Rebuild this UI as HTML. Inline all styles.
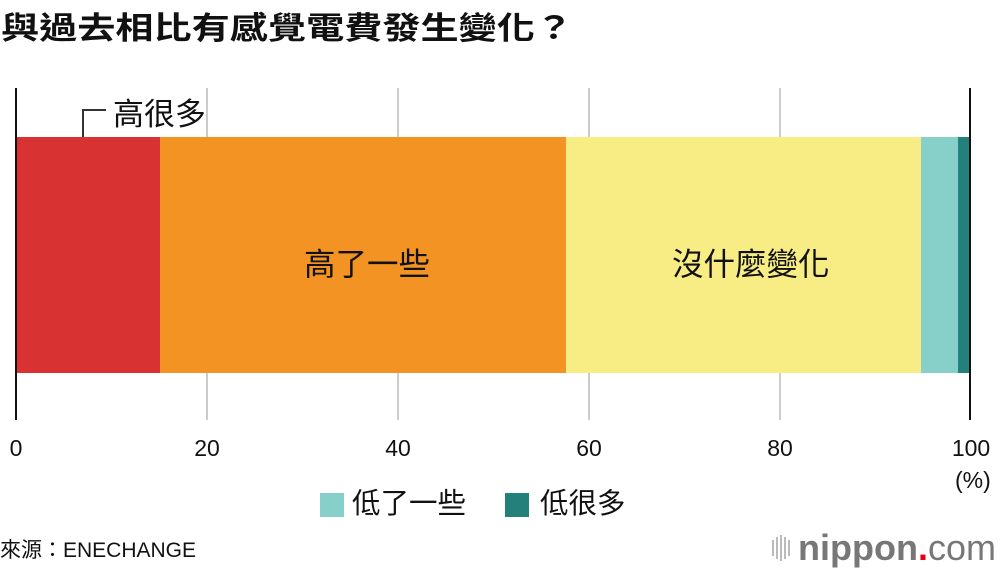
<!DOCTYPE html><html><head><meta charset="utf-8"><style>
body{margin:0;width:1000px;height:570px;background:#fff;overflow:hidden;position:relative;font-family:"Liberation Sans","Noto Sans CJK TC",sans-serif;color:#111}
.a{position:absolute;white-space:nowrap}
.t{position:absolute;white-space:nowrap;transform:translateX(-50%);font-size:23px;top:435px}
</style></head><body>
<svg class="a" style="left:0;top:0" width="1000" height="570">
<text x="1" y="39" font-size="31" font-weight="bold" fill="#111" textLength="572" lengthAdjust="spacingAndGlyphs" font-family="Liberation Sans, Noto Sans CJK TC, sans-serif">與過去相比有感覺電費發生變化？</text>
<g stroke="#ccc" stroke-width="2"><line x1="207" y1="88" x2="207" y2="420"/><line x1="398" y1="88" x2="398" y2="420"/><line x1="589" y1="88" x2="589" y2="420"/><line x1="780" y1="88" x2="780" y2="420"/></g>
<rect x="16" y="137" width="144" height="236" fill="#d93233"/>
<rect x="160" y="137" width="406" height="236" fill="#f39323"/>
<rect x="566" y="137" width="355" height="236" fill="#f8ed85"/>
<rect x="921" y="137" width="37" height="236" fill="#86d0c9"/>
<rect x="958" y="137" width="13" height="236" fill="#24807a"/>
<g stroke="#111" stroke-width="2"><line x1="16" y1="88" x2="16" y2="420"/><line x1="970" y1="88" x2="970" y2="420"/></g>
<polyline points="83,137 83,110 106,110" fill="none" stroke="#333" stroke-width="2"/>
<rect x="320" y="493" width="24" height="24" fill="#86d0c9"/>
<rect x="505" y="493" width="24" height="24" fill="#24807a"/>
<g fill="#bbb"><rect x="772" y="540" width="2" height="16"/><rect x="776" y="537" width="2" height="22"/><rect x="780" y="535" width="2" height="26"/><rect x="784" y="537" width="2" height="22"/><rect x="788" y="540" width="2" height="16"/></g>
</svg>
<div class="a" style="left:113px;top:95px;font-size:31px;line-height:40px">高很多</div>
<div class="a" style="left:304px;top:244px;font-size:31.5px;line-height:40px">高了一些</div>
<div class="a" style="left:672px;top:244px;font-size:31.5px;line-height:40px">沒什麼變化</div>
<div class="t" style="left:16px">0</div>
<div class="t" style="left:207px">20</div>
<div class="t" style="left:398px">40</div>
<div class="t" style="left:589px">60</div>
<div class="t" style="left:780px">80</div>
<div class="t" style="left:971px">100</div>
<div class="a" style="left:955px;top:467px;font-size:23px">(%)</div>
<div class="a" style="left:352px;top:486px;font-size:28.5px;line-height:36px">低了一些</div>
<div class="a" style="left:540px;top:486px;font-size:28.5px;line-height:36px">低很多</div>
<div class="a" style="left:0;top:536px;font-size:21px;line-height:30px">來源：ENECHANGE</div>
<div class="a" style="left:798px;top:526px;font-size:36px;font-weight:bold;color:#777;line-height:44px">nippon<span style="color:#e60012">.</span><span style="font-weight:normal">com</span></div>
</body></html>
